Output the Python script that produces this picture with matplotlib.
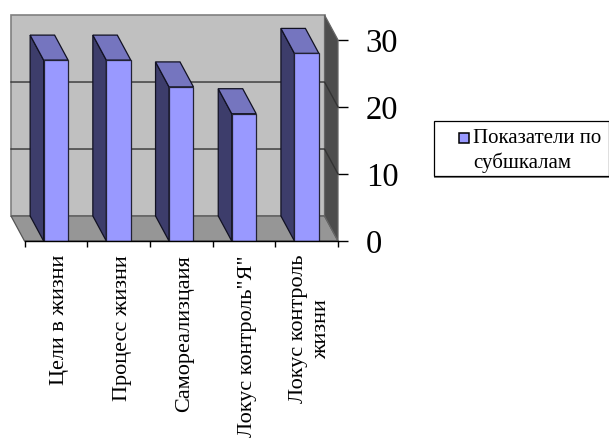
import matplotlib
matplotlib.use("Agg")
import matplotlib.pyplot as plt
from matplotlib.patches import Polygon, Rectangle

categories = ["Цели в жизни", "Процесс жизни", "Самореализцаия",
              "Локус контроль\"Я\"", "Локус контроль\nжизни"]
values = [27, 27, 23, 19, 28]
y_ticks = [0, 10, 20, 30]
legend_lines = ["Показатели по", "субшкалам"]

W, H = 609, 438
SERIF = "Liberation Serif"

# depth of the fake 3D box, in data units
DX = -0.215
DY = 3.73
BAR_W = 0.39

fig = plt.figure(figsize=(W / 100, H / 100), dpi=100)
ax = fig.add_axes([24.5 / W, 1 - 241 / H, 313.5 / W, 201 / H])
ax.set_xlim(0, len(categories))
ax.set_ylim(0, 30)
ax.patch.set_visible(False)
for s in ax.spines.values():
    s.set_visible(False)


def poly(pts, fc, ec="#333333", lw=0.9, z=1):
    ax.add_patch(Polygon(pts, closed=True, fc=fc, ec=ec, lw=lw, zorder=z, clip_on=False))


n = len(categories)
ymax = y_ticks[-1]

# walls and floor
poly([(DX, DY), (n + DX, DY), (n + DX, ymax + DY), (DX, ymax + DY)], "#C0C0C0", ec="#808080", lw=1.2)
poly([(DX, DY), (n + DX, DY), (n, 0), (0, 0)], "#969696", ec="#555555")
poly([(n + DX, DY), (n, 0), (n, ymax), (n + DX, ymax + DY)], "#4D4D4D", ec="#666666")

# gridlines on back wall and side wall
for t in y_ticks[1:-1]:
    ax.plot([DX, n + DX, n], [t + DY, t + DY, t], color="#333333", lw=1.0, zorder=2, clip_on=False)

# bars
for i, v in enumerate(values):
    x0 = i + 0.5 - BAR_W / 2
    x1 = x0 + BAR_W
    poly([(x0, 0), (x0 + DX, DY), (x0 + DX, v + DY), (x0, v)], "#3D3D6B", ec="#111122", z=3)
    poly([(x0, v), (x0 + DX, v + DY), (x1 + DX, v + DY), (x1, v)], "#7575BF", ec="#111122", z=3)
    ax.add_patch(Rectangle((x0, 0), BAR_W, v, fc="#9999FF", ec="#222233", lw=0.9, zorder=4))

# axes lines, ticks and labels
ax.set_xticks(range(n + 1))
ax.set_xticklabels([])
ax.tick_params(axis="x", length=4.5, width=1, color="black", pad=0)
ax.plot([0, n], [0, 0], color="black", lw=1, zorder=5, clip_on=False)

ax.yaxis.tick_right()
ax.set_yticks(y_ticks)
ax.set_yticklabels([str(t) for t in y_ticks], fontsize=23.5, family=SERIF)
ax.tick_params(axis="y", length=7, width=1, color="black", pad=13)

for i, label in enumerate(categories):
    ax.annotate(label, xy=(i + 0.5, 0), xycoords="data", xytext=(2.5, -10),
                textcoords="offset points", rotation=90, ha="center", va="top",
                family=SERIF, fontsize=16, linespacing=1.32, multialignment="center",
                annotation_clip=False)

# legend box with its grey lower edge, drawn in figure pixels
fig.add_artist(Rectangle((434 / W, 1 - 177.5 / H), 175 / W, 55 / H, transform=fig.transFigure,
                         fc="#808080", ec="none"))
fig.add_artist(Rectangle((434 / W, 1 - 176 / H), 175 / W, 55 / H, transform=fig.transFigure,
                         fc="white", ec="black", lw=0.9))
fig.add_artist(Rectangle((458.5 / W, 1 - 143 / H), 10 / W, 10 / H, transform=fig.transFigure,
                         fc="#9999FF", ec="black", lw=1.1))
fig.text(473 / W, 1 - 138.5 / H, legend_lines[0], family=SERIF, fontsize=15, va="center", ha="left")
fig.text(473 / W, 1 - 163 / H, legend_lines[1], family=SERIF, fontsize=15, va="center", ha="left")

fig.savefig("out.png", dpi=100)
